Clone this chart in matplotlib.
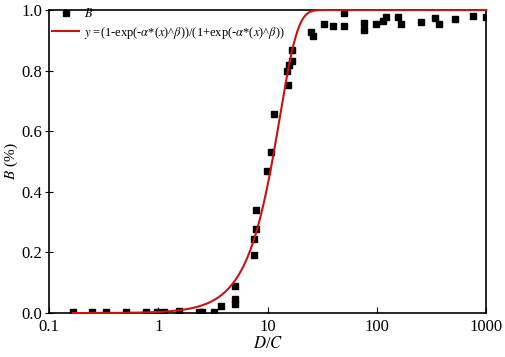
import numpy as np
import matplotlib.pyplot as plt

plt.rcParams['font.family'] = ['Liberation Serif', 'DejaVu Serif']
plt.rcParams['mathtext.fontset'] = 'stix'

# measured points (D/C, B)
dc = [0.165, 0.25, 0.333, 0.505, 0.765, 0.97, 1.12, 1.54, 2.34, 2.5,
      3.26, 3.75, 5.05, 5.05, 5.05, 7.5, 7.5, 7.76, 7.76, 9.95,
      10.66, 11.5, 15.4, 15.1, 15.6, 16.6, 16.6, 24.8, 25.8, 32.9,
      39.2, 50.1, 50.1, 76.5, 76.5, 97.8, 112.7, 121, 155, 166,
      254, 336, 373, 513, 755, 1000]
b = [0.002, 0.002, 0.002, 0.002, 0.002, 0.004, 0.002, 0.006, 0.003, 0.003,
     0.004, 0.022, 0.03, 0.046, 0.088, 0.193, 0.246, 0.278, 0.341, 0.47,
     0.532, 0.656, 0.751, 0.80, 0.817, 0.833, 0.869, 0.926, 0.915, 0.953,
     0.946, 0.99, 0.948, 0.958, 0.934, 0.953, 0.964, 0.977, 0.977, 0.955,
     0.962, 0.975, 0.953, 0.97, 0.98, 0.977]

# fitted model parameters
alpha = 0.0075
beta = 2.08

xf = np.logspace(np.log10(0.165), 3, 400)
t = np.exp(-alpha * xf ** beta)
yf = (1 - t) / (1 + t)

fig = plt.figure(figsize=(5.05, 3.57), dpi=100)
ax = fig.add_axes([0.097, 0.123, 0.866, 0.849])

ax.plot(dc, b, 's', color='black', ms=5, label='$B$', zorder=3)
ax.plot(xf, yf, color='#cc1111', lw=1.5, zorder=4, clip_on=False,
        label=r'$y$ =(1-exp(-$\alpha$*($x$)^$\beta$))/(1+exp(-$\alpha$*($x$)^$\beta$))')

ax.set_xscale('log')
ax.set_xlim(0.1, 1000)
ax.set_ylim(0, 1.0)
ax.set_xticks([0.1, 1, 10, 100, 1000])
ax.set_xticklabels(['0.1', '1', '10', '100', '1000'])
ax.xaxis.set_minor_locator(plt.NullLocator())
ax.set_yticks([0, 0.2, 0.4, 0.6, 0.8, 1.0])
ax.set_yticklabels(['0.0', '0.2', '0.4', '0.6', '0.8', '1.0'])
ax.tick_params(axis='x', direction='in', length=4, labelsize=12, pad=4)
ax.tick_params(axis='y', direction='inout', length=6, labelsize=12, pad=2)
for s in ax.spines.values():
    s.set_linewidth(1.2)

ax.set_xlabel('$D$/$C$', fontsize=12, labelpad=1)
ax.set_ylabel('$B$ (%)', fontsize=11, labelpad=1)

ax.legend(loc='upper left', bbox_to_anchor=(-0.005, 1.025), frameon=False,
          fontsize=9, handlelength=2.2, borderaxespad=0.0, labelspacing=0.35,
          handletextpad=0.4)

fig.savefig('out.png', dpi=100)
